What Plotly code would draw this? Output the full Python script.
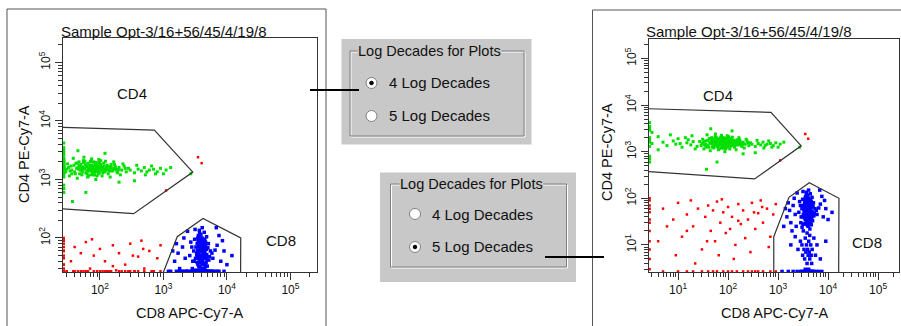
import numpy as np
import plotly.graph_objects as go

W, H = 901, 326
FONT = "Arial, Liberation Sans, sans-serif"

# ---- data (fluorescence values, linear units) ----
green_x = [
    0.5, 1, 1, 2, 1, 0.5, 2, 1, 1, 2,
    3, 2, 4, 5, 3, 6, 8, 4, 10, 12,
    7, 15, 18, 14, 20, 22, 11, 16, 24, 9,
    19, 27, 29, 30, 31, 33, 35, 36, 38, 40,
    42, 44, 45, 46, 48, 50, 52, 54, 55, 56,
    58, 60, 62, 64, 65, 66, 68, 70, 72, 74,
    75, 76, 78, 80, 82, 85, 86, 88, 90, 92,
    95, 96, 98, 100, 104, 105, 108, 110, 115, 118,
    120, 122, 125, 130, 135, 138, 140, 145, 150, 155,
    160, 165, 170, 175, 180, 190, 195, 200, 210, 220,
    230, 240, 250, 260, 280, 300, 350, 380, 400, 450,
    500, 520, 550, 600, 650, 700, 750, 800, 900, 1000,
    1100, 1300, 37, 60, 200, 120, 45, 350, 2700, 48,
    32, 34, 39, 41, 43, 47, 49, 51, 53, 57,
    59, 61, 63, 67, 69, 71, 73, 77, 79, 81,
    83, 84, 87, 89, 91, 93, 94, 97, 99, 102,
    106, 112, 116, 124, 128, 133, 142, 148, 158, 168,
    47, 55, 63, 71, 79, 87, 95, 103, 111, 52,
    58, 66, 74, 82, 90, 98, 44, 36, 150, 185,
]
green_y = [
    800, 1300, 2900, 3500, 4200, 2000, 700, 3200, 600, 1600,
    1500, 1800, 2100, 1600, 2600, 1350, 1700, 1100, 1900, 1250,
    2300, 1550, 1400, 2000, 1650, 1150, 1500, 1800, 1300, 1450,
    2200, 1650, 1350, 1500, 1850, 1150, 1700, 1450, 2300, 1350,
    1900, 1050, 1600, 1500, 1250, 1800, 1450, 1650, 2100, 2400,
    1550, 1300, 1700, 1100, 1900, 1550, 1400, 1600, 1200, 2250,
    1750, 1350, 1500, 2000, 1350, 1650, 1000, 1450, 1850, 1600,
    1550, 2200, 1300, 1700, 1800, 1450, 1150, 1600, 1900, 1500,
    1350, 2050, 1550, 1750, 1250, 1400, 1500, 1100, 1650, 1550,
    1400, 2000, 1800, 1650, 1500, 1300, 1450, 1600, 1200, 1450,
    1850, 1700, 1550, 1350, 1550, 1450, 1300, 1750, 1500, 1400,
    1600, 1200, 1350, 1450, 1700, 1500, 1250, 1350, 1550, 1250,
    1450, 1600, 420, 600, 900, 2800, 3100, 950, 1250, 1700,
    1600, 1400, 1750, 1250, 1550, 1700, 1450, 1600, 1350, 1500,
    1800, 1650, 1400, 1550, 1750, 1450, 1650, 1300, 1700, 1550,
    1450, 1800, 1600, 1350, 1500, 1700, 1400, 1550, 1650, 1500,
    1600, 1400, 1700, 1450, 1600, 1500, 1650, 1400, 1550, 1500,
    2000, 1950, 1250, 2050, 1200, 1950, 1250, 2100, 1300, 1200,
    2050, 1150, 2000, 1200, 1150, 1950, 1900, 1250, 1800, 1350,
]

blue_x = [
    3000, 3200, 3400, 3500, 3600, 3700, 3800, 3900, 4000, 4100,
    4200, 4300, 4400, 4500, 4600, 4700, 4800, 5000, 5200, 5500,
    3100, 3300, 3450, 3550, 3650, 3750, 3850, 3950, 4050, 4150,
    4250, 4350, 4450, 4550, 4650, 4750, 4900, 5100, 5300, 5800,
    2600, 2800, 2900, 2700, 6000, 6500, 3350, 3580, 3720, 3880,
    4020, 4180, 4320, 4480, 4620, 4780, 3020, 2850, 3150, 4080,
    3680, 4400, 1500, 1700, 1800, 2000, 2200, 1300, 1600, 2100,
    2400, 7000, 8000, 9000, 10000, 12000, 7500, 2300, 1900, 8500,
    1400, 6800, 3200, 3800, 4300, 3500, 4100, 3000, 3700, 4500,
    3300, 3900, 4800, 3600, 4200, 3100, 4000, 4600, 3400, 4300,
    3800, 4700, 3500, 4100, 2800, 5200, 2500, 6000, 5600, 2200,
    1800, 9000, 7000, 1200, 1600, 2000, 2400, 2800, 3200, 3600,
    4000, 4400, 4800, 5200, 5800, 6500, 7500, 3000, 3400, 3800,
    3050, 3250, 3420, 3520, 3620, 3780, 3920, 4060, 4220, 4380,
    4520, 4680, 4850, 3150, 3330, 3480, 3640, 3820, 3980, 4130,
    4280, 4430, 4580, 4730, 3900, 3700, 4000, 4200, 3600, 3800,
    4100, 4300, 3500, 3400, 4500, 3950, 3750, 4050, 4350, 3650,
    4200, 4600, 5000,
]
blue_y = [
    60, 45, 80, 35, 55, 70, 40, 90, 50, 65,
    30, 75, 45, 58, 85, 38, 52, 68, 42, 60,
    95, 28, 62, 110, 48, 32, 78, 58, 100, 42,
    55, 88, 36, 72, 50, 64, 33, 80, 48, 55,
    50, 70, 40, 85, 45, 62, 52, 44, 120, 26,
    38, 82, 22, 95, 27, 105, 24, 30, 140, 150,
    135, 125, 40, 55, 30, 70, 45, 25, 80, 100,
    130, 75, 40, 60, 35, 50, 110, 25, 20, 90,
    60, 150, 20, 18, 16, 14, 12, 10, 10, 10,
    8, 8, 8, 7, 7, 6, 6, 6, 5, 5,
    4, 4, 3, 3, 12, 14, 8, 10, 6, 15,
    10, 12, 5, 1, 1, 2, 1, 1, 2, 1,
    1, 2, 1, 1, 2, 1, 1, 1, 1, 2,
    40, 70, 50, 90, 32, 62, 45, 75, 36, 58,
    48, 80, 42, 28, 55, 100, 38, 85, 65, 30,
    90, 52, 34, 46, 115, 105, 25, 60, 72, 50,
    42, 66, 58, 38, 30, 80, 28, 35, 48, 92,
    1, 1, 2,
]

red_x = [
    5, 8, 10, 12, 15, 18, 20, 25, 30, 35,
    40, 45, 50, 55, 60, 70, 80, 90, 100, 120,
    140, 160, 180, 200, 250, 300, 350, 400, 450, 500,
    600, 700, 800, 900, 9, 22, 65, 130, 280, 650,
    15, 38, 75, 110, 220, 330, 480, 160, 6, 4,
    1, 1, 1, 1, 2, 1, 2, 1, 1, 2,
    1, 1, 5, 10, 20, 40, 60, 80, 100, 150,
    200, 300, 400, 500, 700, 900, 30, 250, 120, 15,
    50, 350, 3500, 4000, 1100,
]
red_y = [
    60, 35, 80, 15, 45, 90, 25, 60, 8, 40,
    70, 20, 55, 12, 85, 30, 50, 18, 65, 40,
    10, 75, 28, 55, 35, 80, 22, 48, 90, 30,
    60, 15, 45, 75, 6, 4, 6, 5, 7, 9,
    20, 12, 95, 22, 14, 50, 65, 33, 25, 12,
    5, 20, 50, 90, 35, 12, 70, 8, 30, 60,
    100, 3, 1, 1, 2, 1, 1, 2, 1, 1,
    1, 2, 1, 1, 1, 2, 1, 1, 2, 1,
    2, 1, 2400, 1900, 650,
]

# gates
cd4_gate_x = [1, 720, 2900, 340, 1]
cd4_gate_y = [8600, 7000, 1340, 260, 400]
cd8_gate_x = [820, 820, 1650, 4200, 16500, 16200]
cd8_gate_y = [0.5, 15, 105, 215, 100, 0.5]

sample_title = "Sample Opt-3/16+56/45/4/19/8"
x_title = "CD8 APC-Cy7-A"
y_title = "CD4 PE-Cy7-A"
box_title = "Log Decades for Plots"
options = ["4 Log Decades", "5 Log Decades"]

TOP = np.log10(262144)


def fx(p):
    return p / W


def fy(p):
    return 1 - p / H


fig = go.Figure()

# panels: (axis suffix, decades, dom x px, dom y px)
panels = [
    ("", 4, (63, 317), (38, 272)),
    ("2", 5, (649, 899), (39, 272)),
]

for suf, dec, (x0, x1), (y0, y1) in panels:
    lo = TOP - dec
    floor = 10 ** (lo + 0.012)
    xa, ya = "x" + suf, "y" + suf
    for xs, ys, col, sz in [(red_x, red_y, "#ff0000", 2.5),
                            (green_x, green_y, "#00e000", 3),
                            (blue_x, blue_y, "#0000ff", 3.5)]:
        fig.add_trace(go.Scatter(
            x=np.clip(xs, floor, None), y=np.clip(ys, floor, None),
            mode="markers", xaxis=xa, yaxis=ya, hoverinfo="skip",
            marker=dict(color=col, size=sz, symbol="square", line=dict(width=0)),
        ))
    for gx, gy in [(cd4_gate_x, cd4_gate_y), (cd8_gate_x, cd8_gate_y)]:
        fig.add_trace(go.Scatter(
            x=gx, y=gy, mode="lines", xaxis=xa, yaxis=ya, hoverinfo="skip",
            line=dict(color="#333333", width=1.2),
        ))

    vals = [10 ** k for k in range(int(np.ceil(lo)), 6)]
    texts = ["10<sup>%d</sup>" % k for k in range(int(np.ceil(lo)), 6)]
    common = dict(
        type="log", range=[lo, TOP], showgrid=False, zeroline=False,
        showline=True, mirror=True, linecolor="#333333", linewidth=1,
        ticks="outside", ticklen=7, tickcolor="#333333",
        tickmode="array", tickvals=vals, ticktext=texts,
        tickfont=dict(family=FONT, size=12, color="#111111"),
        minor=dict(ticks="outside", ticklen=4, dtick="D1", tickcolor="#333333"),
    )
    fig.layout["xaxis" + suf] = dict(common, domain=[fx(x0), fx(x1)], anchor=ya)
    fig.layout["yaxis" + suf] = dict(common, domain=[fy(y1), fy(y0)], anchor=xa,
                                     tickangle=-90)

shapes = []
annots = []


def text(x, y, s, size=13, angle=0, xanchor="left", bg=None):
    annots.append(dict(
        x=fx(x), y=fy(y), xref="paper", yref="paper", text=s, showarrow=False,
        xanchor=xanchor, yanchor="middle", textangle=angle,
        font=dict(family=FONT, size=size, color="#111111"),
        bgcolor=bg, borderpad=0,
    ))


def rect(x0, y0, x1, y1, line=None, fill=None, width=1):
    shapes.append(dict(
        type="rect", xref="paper", yref="paper",
        x0=fx(x0), x1=fx(x1), y0=fy(y1), y1=fy(y0),
        line=dict(color=line or "rgba(0,0,0,0)", width=width if line else 0),
        fillcolor=fill or "rgba(0,0,0,0)", layer="below" if fill else "above",
    ))


def hline(x0, x1, y, color="#000000", width=2):
    shapes.append(dict(type="line", xref="paper", yref="paper",
                       x0=fx(x0), x1=fx(x1), y0=fy(y), y1=fy(y),
                       line=dict(color=color, width=width)))


def circle(cx, cy, r, fill, line):
    shapes.append(dict(type="circle", xref="paper", yref="paper",
                       x0=fx(cx - r), x1=fx(cx + r), y0=fy(cy + r), y1=fy(cy - r),
                       fillcolor=fill, line=dict(color=line, width=1)))


# outer panel frames
rect(7, 9, 326, 340, line="#555555")
rect(592.5, 10, 920, 340, line="#555555")

# plot labels
text(60, 31, sample_title, size=15)
text(645, 31, sample_title, size=15)
text(189, 313, x_title, size=14.5, xanchor="center")
text(774, 313, x_title, size=14.5, xanchor="center")
text(24, 154, y_title, size=14.5, angle=-90, xanchor="center")
text(607, 152, y_title, size=14.5, angle=-90, xanchor="center")
text(132, 93, "CD4", size=15, xanchor="center")
text(281, 240, "CD8", size=15, xanchor="center")
text(718, 95, "CD4", size=15, xanchor="center")
text(867, 242, "CD8", size=15, xanchor="center")

# dialogs
GRAY = "#c8c8c8"
dialogs = [
    # outer box, group box, title x, radio cx, radio ys, selected
    ((341.5, 39, 531.5, 144.5), (350, 51, 524, 136), 357, 371.5, (83, 116), 0),
    ((380, 172.5, 576, 282), (390.5, 184, 566.5, 267), 399, 415, (214, 247), 1),
]
for (ox0, oy0, ox1, oy1), (gx0, gy0, gx1, gy1), tx, rcx, rys, sel in dialogs:
    rect(ox0, oy0, ox1, oy1, fill=GRAY)
    rect(gx0 + 1, gy0 + 1, gx1 + 1, gy1 + 1, line="#ffffff")
    rect(gx0, gy0, gx1, gy1, line="#808080")
    text(tx, gy0, box_title, size=14.5, bg=GRAY)
    for i, (ry, lab) in enumerate(zip(rys, options)):
        circle(rcx, ry, 5.5, "#ffffff", "#808080")
        if i == sel:
            circle(rcx, ry, 1.8, "#000000", "#000000")
        text(rcx + 16, ry, lab, size=15)

# connectors
hline(310, 359, 90)
hline(545, 604, 257)

fig.update_layout(
    width=W, height=H, margin=dict(l=0, r=0, t=0, b=0),
    paper_bgcolor="white", plot_bgcolor="white", showlegend=False,
    shapes=shapes, annotations=annots,
    font=dict(family=FONT, color="#111111"),
)

fig.write_html("out.html", config={"displayModeBar": False},
               post_script="document.body.style.margin='0px';")
